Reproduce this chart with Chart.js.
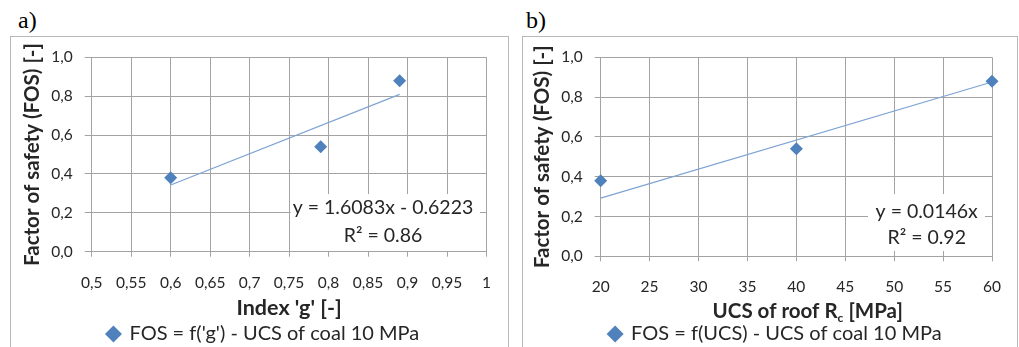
<!DOCTYPE html>
<html><head><meta charset="utf-8">
<script src="https://cdn.jsdelivr.net/npm/chart.js@4/dist/chart.umd.min.js"></script>
<style>
html,body{margin:0;padding:0;background:#fff;width:1019px;height:347px;overflow:hidden;}
.panel{position:absolute;border:1px solid #b8b8b8;box-sizing:border-box;}
.tag{position:absolute;font-family:"Liberation Serif","DejaVu Serif",serif;font-size:24px;color:#000;line-height:1;}
canvas{position:absolute;}
</style></head><body>
<div class="tag" style="left:18px;top:8px">a)</div>
<div class="tag" style="left:526px;top:8px">b)</div>
<div class="panel" style="left:10px;top:36px;width:499px;height:330px"></div>
<div class="panel" style="left:522px;top:36px;width:496px;height:330px"></div>
<canvas id="ca" width="498" height="311" style="left:10px;top:36px"></canvas>
<canvas id="cb" width="495" height="311" style="left:522px;top:36px"></canvas>
<script>
// ---- data ----
const xA = [0.6, 0.79, 0.89];
const yA = [0.38, 0.54, 0.88];
const xB = [20, 40, 60];
const yB = [0.38, 0.54, 0.88];
const trendAx = [0.6, 0.89];
const trendAy = [0.343, 0.809];
const trendBx = [20, 60];
const trendBy = [0.292, 0.876];
const xTicksA = ['0,5','0,55','0,6','0,65','0,7','0,75','0,8','0,85','0,9','0,95','1'];
const xTicksB = ['20','25','30','35','40','45','50','55','60'];
const yTicks = ['0,0','0,2','0,4','0,6','0,8','1,0'];
const eqA = ['y = 1.6083x - 0.6223', 'R\u00B2 = 0.86'];
const eqB = ['y = 0.0146x', 'R\u00B2 = 0.92'];
const legendA = "FOS = f('g') - UCS of coal 10 MPa";
const legendB = 'FOS = f(UCS) - UCS of coal 10 MPa';
const yTitle = 'Factor of safety (FOS) [-]';
const xTitleA = "Index 'g' [-]";
const xTitleB = ['UCS of roof R', 'c', ' [MPa]'];

const FONT = 'Lato, "Open Sans", sans-serif';
const BLUE = '#4F81BD';
const GRID = '#a3a3a3';
const TXT = '#262626';

const eqPlugin = {
  id: 'eqLabel',
  afterLayout(chart, args, o) {
    const l = chart.legend;
    if (!l) return;
    l.left += o.legDx; l.right += o.legDx;
    l.top += o.legDy; l.bottom += o.legDy;
  },
  afterDatasetsDraw(chart, args, o) {
    const {ctx, chartArea: a} = chart;
    ctx.save();
    ctx.fillStyle = '#fff';
    ctx.fillRect(a.left + o.box[0], a.top + o.box[1], o.box[2] - o.box[0], o.box[3] - o.box[1]);
    ctx.fillStyle = TXT;
    ctx.font = '19.5px ' + FONT;
    ctx.textAlign = 'center';
    ctx.textBaseline = 'middle';
    ctx.fillText(o.lines[0], a.left + o.cx, a.top + o.y1);
    ctx.fillText(o.lines[1], a.left + o.cx, a.top + o.y2);
    ctx.restore();
  },
  afterDraw(chart, args, o) {
    if (!o.sub) return;
    const {ctx, chartArea: a} = chart;
    ctx.save();
    ctx.fillStyle = TXT;
    ctx.textBaseline = 'alphabetic';
    const big = 'bold 20.5px ' + FONT, small = 'bold 12px ' + FONT;
    ctx.font = big; const w1 = ctx.measureText(o.sub[0]).width, w3 = ctx.measureText(o.sub[2]).width;
    ctx.font = small; const w2 = ctx.measureText(o.sub[1]).width;
    let x = a.left + o.tx - (w1 + w2 + w3) / 2;
    const base = o.ty;
    ctx.textAlign = 'left';
    ctx.font = big; ctx.fillText(o.sub[0], x, base); x += w1;
    ctx.font = small; ctx.fillText(o.sub[1], x, base + 4); x += w2;
    ctx.font = big; ctx.fillText(o.sub[2], x, base);
    ctx.restore();
  }
};

function makeChart(id, cfg) {
  const pts = cfg.xs.map((x, i) => ({x, y: cfg.ys[i]}));
  const tr = cfg.tx.map((x, i) => ({x, y: cfg.ty[i]}));
  return new Chart(document.getElementById(id), {
    type: 'scatter',
    data: {
      datasets: [
        {label: cfg.legend, data: pts, pointStyle: 'rectRot', pointRadius: 6.5, pointHoverRadius: 6.5,
         backgroundColor: BLUE, borderColor: BLUE, borderWidth: 0, order: 1, clip: false},
        {label: 'trend', type: 'line', data: tr, borderColor: '#7ea3d4', borderWidth: 1.2,
         pointRadius: 0, fill: false, order: 2}
      ]
    },
    options: {
      responsive: false, animation: false,
      layout: {padding: {top: cfg.padTop, right: cfg.padRight, left: 0, bottom: 0}},
      plugins: {
        tooltip: {enabled: false},
        legend: {
          position: 'bottom',
          labels: {
            usePointStyle: true, pointStyle: 'rectRot', boxHeight: 12, boxWidth: 12,
            color: TXT, font: {family: FONT, size: 20}, padding: 0,
            filter: (item) => item.datasetIndex === 0
          }
        },
        eqLabel: cfg.eq
      },
      scales: {
        x: {
          type: 'linear', min: cfg.xmin, max: cfg.xmax,
          ticks: {stepSize: cfg.xstep, color: TXT, font: {family: FONT, size: 15.5}, padding: cfg.xTickPad,
                  maxRotation: 0, autoSkip: false, callback: (v, i) => cfg.xLabels[i]},
          grid: {color: GRID, lineWidth: 1, tickLength: 5, drawTicks: true},
          border: {color: GRID},
          title: {display: cfg.xTitle !== null, text: cfg.xTitle || '', color: TXT,
                  font: {family: FONT, size: 21.5, weight: 'bold'}, padding: {top: 0, bottom: cfg.xTitlePadB}},
          afterFit: (s) => {
            const L = s.chart.legend ? s.chart.legend.height : 0;
            s.height = s.chart.height - cfg.bottom - L;
          }
        },
        y: {
          type: 'linear', min: 0, max: 1,
          ticks: {stepSize: 0.2, color: TXT, font: {family: FONT, size: 15.5}, padding: cfg.yTickPad,
                  callback: (v, i) => yTicks[i]},
          grid: {color: GRID, lineWidth: 1, tickLength: cfg.yTickLen},
          border: {color: GRID},
          title: {display: true, text: yTitle, color: TXT,
                  font: {family: FONT, size: 20.5, weight: 'bold'}, padding: {top: cfg.yTitlePad, bottom: 0}},
          afterFit: (s) => { s.width = cfg.yW; }
        }
      }
    },
    plugins: [eqPlugin]
  });
}

makeChart('ca', {
  xs: xA, ys: yA, tx: trendAx, ty: trendAy, legend: legendA,
  xmin: 0.5, xmax: 1, xstep: 0.05, xLabels: xTicksA, xTitle: xTitleA,
  padTop: 17.3, padRight: 21.3, yW: 81.7, bottom: 215.7, xTitlePadB: -4,
  xTickPad: 17, yTickPad: 12, yTickLen: 7, yTitlePad: 9.7,
  eq: {lines: eqA, box: [199, 136.7, 388.3, 193.7], cx: 291.3, y1: 150.7, y2: 178.4, legDx: 15, legDy: 7}
});
makeChart('cb', {
  xs: xB, ys: yB, tx: trendBx, ty: trendBy, legend: legendB,
  xmin: 20, xmax: 60, xstep: 5, xLabels: xTicksB, xTitle: null,
  padTop: 17.3, padRight: 20.3, yW: 78.7, bottom: 220.3, xTitlePadB: 0,
  xTickPad: 16, yTickPad: 12, yTickLen: 6, yTitlePad: 7.7,
  eq: {lines: eqB, box: [267.3, 136.7, 384.3, 193.7], cx: 326, y1: 154, y2: 180,
       sub: xTitleB, tx: 207, ty: 282, legDx: 16, legDy: 7}
});
</script>
</body></html>
